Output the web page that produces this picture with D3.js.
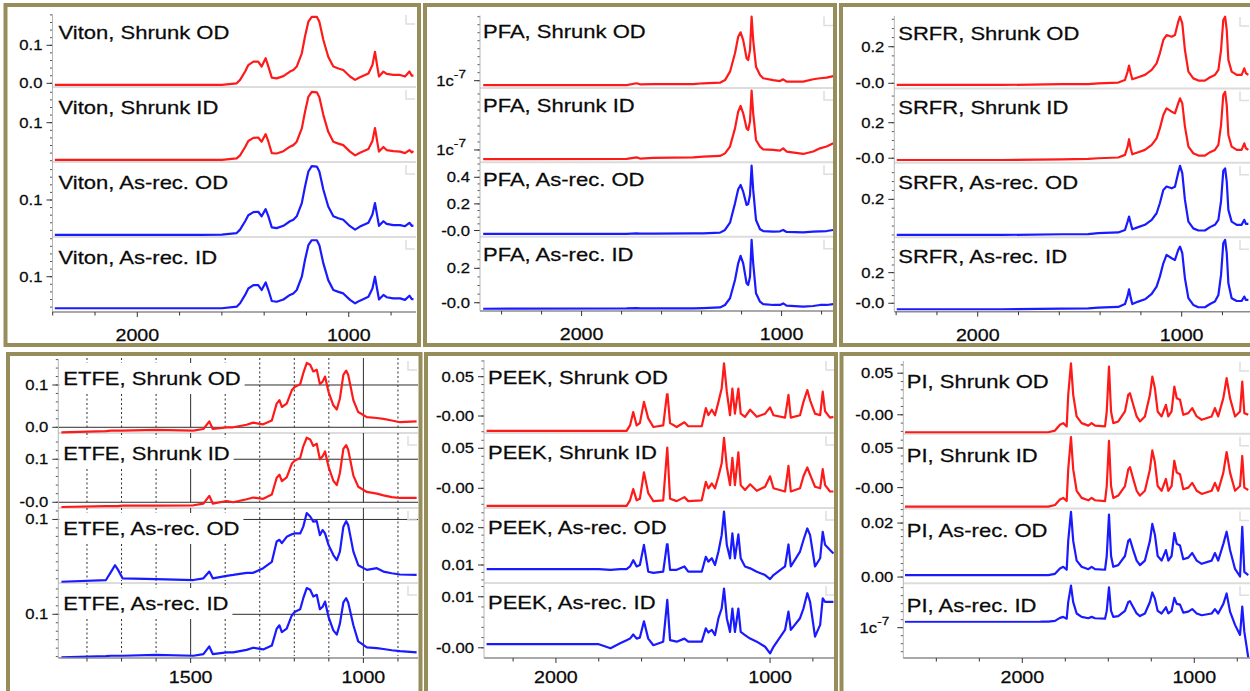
<!DOCTYPE html>
<html>
<head>
<meta charset="utf-8">
<script src="https://cdn.jsdelivr.net/npm/d3@7"></script>
<style>
html, body { margin: 0; padding: 0; background: #fff; }
svg { display: block; }
text { font-family: "Liberation Sans", Arial, sans-serif; }
</style>
</head>
<body>
<svg id="chart" width="1250" height="691"></svg>
<script>
// ---- FTIR spectra: absorbance vs wavenumber (cm-1), four samples per material ----
const materials = ["Viton", "PFA", "SRFR", "ETFE", "PEEK", "PI"];
const conditions = ["Shrunk OD", "Shrunk ID", "As-rec. OD", "As-rec. ID"];

// Viton
const vitonWn = [2390, 2000, 1700, 1600, 1530, 1514, 1490, 1475, 1451, 1428, 1412, 1393, 1380, 1364, 1341, 1309, 1278, 1262, 1246, 1222, 1207, 1191, 1175, 1151, 1139, 1120, 1097, 1073, 1049, 1026, 994, 970, 947, 907, 888, 876, 865, 857, 836, 821, 789, 757, 734, 713, 702, 694];
const vitonShrunkOD = [-0.004, -0.004, -0.004, -0.004, 0.000, 0.009, 0.031, 0.048, 0.057, 0.057, 0.044, 0.066, 0.044, 0.015, 0.013, 0.019, 0.031, 0.035, 0.044, 0.079, 0.123, 0.162, 0.175, 0.175, 0.162, 0.114, 0.070, 0.044, 0.039, 0.035, 0.018, 0.009, 0.016, 0.026, 0.048, 0.083, 0.044, 0.018, 0.031, 0.025, 0.022, 0.022, 0.018, 0.031, 0.020, 0.020];
const vitonShrunkID = [0.002, 0.002, 0.002, 0.002, 0.006, 0.014, 0.036, 0.052, 0.060, 0.061, 0.050, 0.070, 0.050, 0.020, 0.019, 0.025, 0.037, 0.041, 0.050, 0.085, 0.128, 0.168, 0.181, 0.180, 0.167, 0.120, 0.076, 0.050, 0.045, 0.041, 0.024, 0.014, 0.021, 0.031, 0.052, 0.086, 0.049, 0.024, 0.036, 0.028, 0.025, 0.024, 0.020, 0.028, 0.022, 0.025];
const vitonAsRecOD = [0.008, 0.008, 0.008, 0.009, 0.013, 0.022, 0.044, 0.060, 0.068, 0.069, 0.057, 0.076, 0.057, 0.028, 0.026, 0.032, 0.044, 0.048, 0.057, 0.092, 0.135, 0.175, 0.189, 0.188, 0.175, 0.127, 0.083, 0.057, 0.052, 0.048, 0.031, 0.022, 0.030, 0.040, 0.062, 0.092, 0.057, 0.032, 0.044, 0.037, 0.034, 0.034, 0.031, 0.040, 0.032, 0.033];
const vitonAsRecID = [0.017, 0.017, 0.017, 0.017, 0.021, 0.030, 0.052, 0.069, 0.078, 0.078, 0.065, 0.085, 0.065, 0.036, 0.034, 0.040, 0.052, 0.056, 0.065, 0.100, 0.144, 0.183, 0.196, 0.196, 0.183, 0.135, 0.091, 0.065, 0.060, 0.056, 0.039, 0.030, 0.037, 0.047, 0.069, 0.100, 0.065, 0.040, 0.052, 0.046, 0.043, 0.043, 0.039, 0.050, 0.041, 0.041];
const vitonYDomains = [[-0.0097, 0.1876], [-0.0034, 0.1939], [0.0026, 0.2], [0.0071, 0.2045]];
const vitonYTicks = [[0, 0.1], [0.1], [0.1], [0.1]];
const vitonYTickLabels = [["0.0", "0.1"], ["0.1"], ["0.1"], ["0.1"]];
const vitonYMinor = [0.02, 0.02, 0.02, 0.02];
const vitonXDomain = [2401, 682];
const vitonXMajor = [2000, 1000];
const vitonXMinor = [2400, 2200, 1800, 1600, 1400, 1200, 800];

// PFA
const pfaWn = [2492, 1775, 1725, 1708, 1642, 1442, 1392, 1308, 1283, 1258, 1233, 1217, 1205, 1192, 1175, 1167, 1158, 1150, 1142, 1128, 1108, 1092, 1042, 1008, 992, 975, 892, 842, 808, 775, 742];
const pfaShrunkOD = [0.978e-7, 0.978e-7, 0.987e-7, 0.982e-7, 0.983e-7, 0.983e-7, 0.987e-7, 0.990e-7, 1.003e-7, 1.045e-7, 1.137e-7, 1.220e-7, 1.242e-7, 1.203e-7, 1.112e-7, 1.103e-7, 1.153e-7, 1.320e-7, 1.203e-7, 1.070e-7, 1.028e-7, 1.012e-7, 1.003e-7, 0.998e-7, 1.007e-7, 0.995e-7, 0.995e-7, 1.007e-7, 1.012e-7, 1.015e-7, 1.023e-7];
const pfaShrunkID = [0.954e-7, 0.955e-7, 0.963e-7, 0.957e-7, 0.960e-7, 0.963e-7, 0.967e-7, 0.970e-7, 0.983e-7, 1.017e-7, 1.108e-7, 1.192e-7, 1.220e-7, 1.183e-7, 1.108e-7, 1.100e-7, 1.142e-7, 1.297e-7, 1.183e-7, 1.050e-7, 1.017e-7, 1.003e-7, 1.000e-7, 0.997e-7, 1.008e-7, 0.992e-7, 0.980e-7, 0.992e-7, 1.008e-7, 1.017e-7, 1.033e-7];
const pfaAsRecOD = [-0.026, -0.026, -0.021, -0.024, -0.024, -0.021, -0.021, -0.016, 0.004, 0.059, 0.204, 0.310, 0.342, 0.292, 0.192, 0.199, 0.267, 0.487, 0.305, 0.079, 0.009, -0.004, -0.009, -0.006, 0.004, -0.011, -0.014, -0.009, -0.006, -0.004, 0.004];
const pfaAsRecID = [-0.035, -0.033, -0.031, -0.033, -0.033, -0.033, -0.031, -0.027, -0.013, 0.026, 0.132, 0.229, 0.272, 0.229, 0.113, 0.103, 0.151, 0.365, 0.229, 0.055, 0.006, -0.008, -0.013, -0.013, -0.004, -0.017, -0.023, -0.019, -0.013, -0.013, -0.008];
const pfaYDomains = [[0.964e-7, 1.336e-7], [0.9385e-7, 1.3105e-7], [-0.046, 0.513], [-0.048, 0.384]];
const pfaYTicks = [[1e-7], [1e-7], [0, 0.2, 0.4], [0, 0.2]];
const pfaYTickLabels = [["1c^-7"], ["1c^-7"], ["-0.0", "0.2", "0.4"], ["-0.0", "0.2"]];
const pfaYMinor = [4e-9, 4e-9, 0.05, 0.05];
const pfaXDomain = [2508, 738];
const pfaXMajor = [2000, 1000];
const pfaXMinor = [2400, 2200, 1800, 1600, 1400, 1200, 800];

// SRFR
const srfrWn = [2397, 1882, 1588, 1458, 1409, 1311, 1278, 1265, 1258, 1250, 1242, 1213, 1180, 1147, 1123, 1107, 1090, 1074, 1049, 1033, 1017, 1008, 997, 984, 967, 943, 918, 886, 861, 837, 820, 807, 796, 787, 779, 771, 755, 730, 706, 693, 685, 673];
const srfrShrunkOD = [-0.009, -0.009, -0.005, -0.004, 0.000, 0.004, 0.018, 0.064, 0.097, 0.055, 0.022, 0.033, 0.046, 0.073, 0.109, 0.164, 0.237, 0.264, 0.255, 0.264, 0.337, 0.364, 0.328, 0.182, 0.064, 0.027, 0.015, 0.015, 0.033, 0.046, 0.073, 0.182, 0.346, 0.364, 0.291, 0.128, 0.064, 0.046, 0.046, 0.082, 0.055, 0.046];
const srfrShrunkID = [-0.010, -0.010, -0.006, -0.004, 0.000, 0.004, 0.019, 0.065, 0.107, 0.056, 0.022, 0.034, 0.047, 0.075, 0.112, 0.168, 0.243, 0.281, 0.262, 0.253, 0.309, 0.337, 0.309, 0.178, 0.065, 0.028, 0.015, 0.015, 0.034, 0.047, 0.075, 0.187, 0.356, 0.374, 0.299, 0.131, 0.065, 0.047, 0.047, 0.084, 0.056, 0.047];
const srfrAsRecOD = [0.000, 0.000, 0.004, 0.005, 0.010, 0.014, 0.028, 0.075, 0.103, 0.066, 0.032, 0.044, 0.057, 0.085, 0.122, 0.178, 0.253, 0.272, 0.262, 0.271, 0.350, 0.388, 0.347, 0.197, 0.075, 0.037, 0.025, 0.025, 0.044, 0.057, 0.085, 0.190, 0.360, 0.374, 0.300, 0.141, 0.075, 0.057, 0.057, 0.085, 0.062, 0.062];
const srfrAsRecID = [-0.039, -0.039, -0.035, -0.033, -0.029, -0.024, -0.005, 0.048, 0.091, 0.037, -0.005, 0.011, 0.026, 0.061, 0.109, 0.174, 0.261, 0.316, 0.294, 0.283, 0.348, 0.370, 0.327, 0.163, 0.033, -0.011, -0.026, -0.026, -0.005, 0.011, 0.054, 0.185, 0.392, 0.414, 0.327, 0.131, 0.033, 0.015, 0.015, 0.044, 0.022, 0.022];
const srfrYDomains = [[-0.028, 0.379], [-0.026, 0.393], [-0.013, 0.405], [-0.055, 0.431]];
const srfrYTicks = [[0, 0.2], [0, 0.2], [0.2], [0, 0.2]];
const srfrYTickLabels = [["-0.0", "0.2"], ["-0.0", "0.2"], ["0.2"], ["-0.0", "0.2"]];
const srfrYMinor = [0.05, 0.05, 0.05, 0.05];
const srfrXDomain = [2409, 665];
const srfrXMajor = [2000, 1000];
const srfrXMinor = [2400, 2200, 1800, 1600, 1400, 1200, 800];

// ETFE
const etfeWn = [1874, 1745, 1730, 1719, 1710, 1697, 1600, 1492, 1463, 1446, 1436, 1396, 1377, 1338, 1319, 1290, 1265, 1251, 1243, 1236, 1222, 1207, 1198, 1183, 1174, 1164, 1154, 1145, 1135, 1126, 1118, 1111, 1101, 1087, 1077, 1068, 1058, 1050, 1044, 1029, 1015, 990, 961, 942, 918, 894, 846];
const etfeShrunkOD = [-0.012, -0.009, -0.008, -0.008, -0.008, -0.008, -0.006, -0.008, -0.004, 0.014, -0.004, 0.000, 0.000, 0.006, 0.011, 0.007, 0.016, 0.056, 0.064, 0.048, 0.056, 0.088, 0.096, 0.102, 0.128, 0.152, 0.148, 0.132, 0.136, 0.102, 0.108, 0.120, 0.084, 0.052, 0.042, 0.068, 0.124, 0.134, 0.124, 0.064, 0.036, 0.024, 0.022, 0.020, 0.016, 0.012, 0.014];
const etfeShrunkID = [-0.011, -0.009, -0.009, -0.009, -0.009, -0.008, -0.008, -0.007, -0.003, 0.015, -0.003, 0.003, 0.000, 0.007, 0.011, 0.008, 0.018, 0.057, 0.064, 0.049, 0.058, 0.090, 0.097, 0.103, 0.130, 0.150, 0.146, 0.131, 0.136, 0.100, 0.107, 0.118, 0.083, 0.050, 0.040, 0.068, 0.124, 0.133, 0.122, 0.062, 0.036, 0.024, 0.020, 0.016, 0.012, 0.010, 0.010];
const etfeAsRecOD = [-0.047, -0.043, -0.023, -0.008, -0.019, -0.039, -0.041, -0.043, -0.039, -0.023, -0.039, -0.033, -0.031, -0.026, -0.026, -0.015, 0.000, 0.048, 0.052, 0.044, 0.059, 0.065, 0.067, 0.067, 0.083, 0.115, 0.107, 0.095, 0.096, 0.063, 0.075, 0.067, 0.040, 0.016, 0.004, 0.024, 0.083, 0.096, 0.087, 0.024, -0.008, -0.019, -0.015, -0.023, -0.027, -0.030, -0.031];
const etfeAsRecID = [-0.002, 0.001, 0.002, 0.002, 0.002, 0.002, 0.004, 0.002, 0.006, 0.024, 0.006, 0.010, 0.010, 0.016, 0.021, 0.017, 0.026, 0.066, 0.074, 0.058, 0.066, 0.098, 0.106, 0.112, 0.138, 0.162, 0.158, 0.142, 0.146, 0.112, 0.118, 0.130, 0.094, 0.062, 0.052, 0.078, 0.128, 0.138, 0.128, 0.074, 0.036, 0.022, 0.020, 0.018, 0.015, 0.013, 0.010];
const etfeYDomains = [[-0.0135, 0.1638], [-0.0133, 0.161], [-0.050, 0.127], [-0.0033, 0.174]];
const etfeYTicks = [[0, 0.1], [0, 0.1], [0.1], [0.1]];
const etfeYTickLabels = [["0.0", "0.1"], ["-0.0", "0.1"], ["0.1"], ["0.1"]];
const etfeYMinor = [0.02, 0.02, 0.02, 0.02];
const etfeXDomain = [1883, 842];
const etfeXMajor = [1500, 1000];
const etfeXMinor = [1800, 1700, 1600, 1400, 1300, 1200, 1100, 900];

// PEEK
const peekWn = [2324, 1800, 1745, 1700, 1670, 1654, 1639, 1623, 1608, 1589, 1569, 1545, 1499, 1480, 1467, 1436, 1400, 1382, 1319, 1300, 1288, 1272, 1257, 1241, 1226, 1215, 1202, 1187, 1176, 1164, 1148, 1137, 1117, 1093, 1062, 1023, 1000, 984, 930, 914, 903, 860, 844, 826, 813, 790, 766, 754, 743, 720, 704];
const peekShrunkOD = [-0.019, -0.019, -0.019, -0.019, -0.019, -0.012, 0.005, -0.012, -0.009, 0.018, -0.003, -0.014, -0.012, 0.031, -0.009, -0.014, -0.008, -0.013, -0.013, 0.010, 0.001, 0.008, 0.001, 0.018, 0.035, 0.067, 0.031, 0.001, 0.035, 0.003, 0.035, 0.003, -0.001, 0.008, -0.001, 0.003, 0.011, 0.001, -0.002, 0.027, -0.002, 0.001, 0.018, 0.033, 0.020, 0.003, 0.001, 0.031, 0.006, -0.002, -0.001];
const peekShrunkID = [-0.022, -0.022, -0.022, -0.022, -0.022, -0.015, -0.001, -0.015, -0.013, 0.020, -0.006, -0.016, -0.015, 0.051, -0.013, -0.016, -0.011, -0.016, -0.015, 0.008, 0.000, 0.006, 0.000, 0.015, 0.031, 0.063, 0.027, 0.004, 0.038, 0.004, 0.045, 0.004, -0.002, 0.005, -0.003, 0.002, 0.015, 0.000, -0.004, 0.028, -0.004, 0.000, 0.015, 0.026, 0.017, 0.002, 0.000, 0.024, 0.004, -0.004, -0.004];
const peekAsRecOD = [0.0089, 0.0089, 0.0087, 0.0089, 0.0089, 0.0096, 0.0113, 0.0096, 0.0100, 0.0154, 0.0082, 0.0079, 0.0082, 0.0162, 0.0087, 0.0087, 0.0096, 0.0082, 0.0082, 0.0122, 0.0109, 0.0118, 0.0100, 0.0136, 0.0180, 0.0243, 0.0154, 0.0118, 0.0185, 0.0118, 0.0182, 0.0118, 0.0096, 0.0091, 0.0082, 0.0073, 0.0062, 0.0073, 0.0096, 0.0155, 0.0096, 0.0136, 0.0167, 0.0198, 0.0180, 0.0096, 0.0118, 0.0189, 0.0154, 0.0140, 0.0131];
const peekAsRecID = [0.0007, 0.0007, -0.0001, 0.0009, 0.0015, 0.0018, 0.0026, 0.0018, 0.0020, 0.0052, 0.0018, 0.0005, 0.0012, 0.0094, 0.0015, 0.0012, 0.0018, 0.0012, 0.0012, 0.0038, 0.0030, 0.0035, 0.0025, 0.0058, 0.0077, 0.0116, 0.0058, 0.0031, 0.0077, 0.0031, 0.0077, 0.0031, 0.0025, 0.0018, 0.0012, 0.0002, -0.0011, 0.0002, 0.0035, 0.0071, 0.0035, 0.0058, 0.0077, 0.0107, 0.0090, 0.0022, 0.0045, 0.0097, 0.0090, 0.0090, 0.0090];
const peekYDomains = [[-0.0216, 0.0738], [-0.0246, 0.0691], [0.00517, 0.02528], [-0.0020, 0.0127]];
const peekYTicks = [[0, 0.05], [0, 0.05], [0.01, 0.02], [0, 0.01]];
const peekYTickLabels = [["-0.00", "0.05"], ["-0.00", "0.05"], ["0.01", "0.02"], ["-0.00", "0.01"]];
const peekYMinor = [0.01, 0.01, 0.002, 0.002];
const peekXDomain = [2336, 692];
const peekXMajor = [2000, 1000];
const peekXMinor = [2200, 1800, 1600, 1400, 1200, 800];

// PI
const piWn = [2682, 1849, 1810, 1781, 1762, 1742, 1733, 1717, 1704, 1684, 1655, 1616, 1597, 1577, 1519, 1509, 1496, 1484, 1471, 1442, 1403, 1384, 1374, 1355, 1335, 1316, 1287, 1258, 1244, 1229, 1213, 1190, 1165, 1151, 1132, 1116, 1102, 1083, 1064, 1035, 1012, 986, 957, 899, 880, 861, 831, 812, 792, 763, 734, 721, 709, 686];
const piShrunkOD = [-0.021, -0.021, -0.019, -0.012, -0.010, -0.014, 0.024, 0.062, 0.024, -0.002, -0.010, -0.013, -0.010, -0.013, -0.014, 0.004, 0.058, 0.004, -0.010, -0.008, 0.004, 0.024, 0.026, 0.012, -0.002, -0.008, -0.002, 0.024, 0.046, 0.032, 0.004, -0.002, 0.012, -0.002, 0.004, 0.034, 0.020, 0.018, 0.000, 0.002, 0.008, -0.002, -0.006, -0.002, 0.008, -0.002, 0.020, 0.044, 0.020, -0.002, 0.004, 0.040, 0.002, 0.000];
const piShrunkID = [-0.024, -0.024, -0.022, -0.015, -0.013, -0.017, 0.023, 0.064, 0.023, -0.004, -0.013, -0.016, -0.013, -0.016, -0.017, 0.002, 0.059, 0.002, -0.013, -0.010, 0.002, 0.023, 0.026, 0.011, -0.004, -0.010, -0.004, 0.023, 0.047, 0.032, 0.002, -0.004, 0.011, -0.004, 0.002, 0.034, 0.019, 0.017, -0.002, 0.000, 0.006, -0.004, -0.008, -0.004, 0.006, -0.004, 0.019, 0.045, 0.019, -0.004, 0.002, 0.040, 0.000, -0.003];
const piAsRecOD = [0.0007, 0.0007, 0.0012, 0.0032, 0.0038, 0.0027, 0.0134, 0.0242, 0.0134, 0.0061, 0.0038, 0.0029, 0.0038, 0.0029, 0.0027, 0.0078, 0.0231, 0.0078, 0.0038, 0.0044, 0.0078, 0.0134, 0.0140, 0.0100, 0.0061, 0.0044, 0.0061, 0.0134, 0.0197, 0.0157, 0.0078, 0.0061, 0.0100, 0.0061, 0.0078, 0.0163, 0.0123, 0.0117, 0.0066, 0.0072, 0.0089, 0.0061, 0.0049, 0.0061, 0.0089, 0.0061, 0.0123, 0.0168, 0.0100, 0.0030, 0.0002, 0.0186, 0.0019, 0.0007];
const piAsRecID = [1.030e-7, 1.030e-7, 1.034e-7, 1.049e-7, 1.054e-7, 1.045e-7, 1.128e-7, 1.210e-7, 1.128e-7, 1.071e-7, 1.054e-7, 1.047e-7, 1.054e-7, 1.047e-7, 1.045e-7, 1.084e-7, 1.202e-7, 1.084e-7, 1.054e-7, 1.058e-7, 1.084e-7, 1.128e-7, 1.132e-7, 1.102e-7, 1.071e-7, 1.058e-7, 1.071e-7, 1.128e-7, 1.176e-7, 1.145e-7, 1.084e-7, 1.071e-7, 1.102e-7, 1.071e-7, 1.084e-7, 1.149e-7, 1.119e-7, 1.115e-7, 1.075e-7, 1.080e-7, 1.093e-7, 1.071e-7, 1.062e-7, 1.071e-7, 1.093e-7, 1.071e-7, 1.119e-7, 1.171e-7, 1.080e-7, 1.014e-7, 0.964e-7, 1.105e-7, 0.980e-7, 0.850e-7];
const piYDomains = [[-0.0228, 0.0671], [-0.0264, 0.0681], [-0.0023, 0.0254], [0.8485e-7, 1.222e-7]];
const piYTicks = [[0, 0.05], [0, 0.05], [0, 0.02], [1e-7]];
const piYTickLabels = [["-0.00", "0.05"], ["-0.00", "0.05"], ["0.00", "0.02"], ["1c^-7"]];
const piYMinor = [0.01, 0.01, 0.0025, 4e-9];
const piXDomain = [2692, 676];
const piXMajor = [2000, 1000];
const piXMinor = [2500, 2250, 1750, 1500, 1250, 750];

// ---- layout and styling ----
const STRETCH = 1.19;            // text is drawn horizontally widened
const RED = "#ff1a1a", BLUE = "#1a1aff";
const OLIVE = "#978d5b";
const seriesColors = [RED, RED, BLUE, BLUE];

const panels = [
  { name: materials[0], wn: vitonWn, series: [vitonShrunkOD, vitonShrunkID, vitonAsRecOD, vitonAsRecID],
    yDomains: vitonYDomains, yTicks: vitonYTicks, yTickLabels: vitonYTickLabels, yMinor: vitonYMinor,
    xDomain: vitonXDomain, xMajor: vitonXMajor, xMinor: vitonXMinor,
    frame: { x: 5.5, y: 5, w: 413.5, h: 340 }, plot: { l: 52.5, r: 416, t: 12, b: 312 },
    labelDx: 6, labelDy: 26.5, xLabelDy: 29, grid: false },
  { name: materials[1], wn: pfaWn, series: [pfaShrunkOD, pfaShrunkID, pfaAsRecOD, pfaAsRecID],
    yDomains: pfaYDomains, yTicks: pfaYTicks, yTickLabels: pfaYTickLabels, yMinor: pfaYMinor,
    xDomain: pfaXDomain, xMajor: pfaXMajor, xMinor: pfaXMinor,
    frame: { x: 425, y: 5, w: 410, h: 340 }, plot: { l: 480, r: 834, t: 13.5, b: 311 },
    labelDx: 3, labelDy: 24, xLabelDy: 29, grid: false },
  { name: materials[2], wn: srfrWn, series: [srfrShrunkOD, srfrShrunkID, srfrAsRecOD, srfrAsRecID],
    yDomains: srfrYDomains, yTicks: srfrYTicks, yTickLabels: srfrYTickLabels, yMinor: srfrYMinor,
    xDomain: srfrXDomain, xMajor: srfrXMajor, xMinor: srfrXMinor,
    frame: { x: 841, y: 5, w: 430, h: 340 }, plot: { l: 894.3, r: 1250, t: 14, b: 311.7 },
    labelDx: 4, labelDy: 26, xLabelDy: 29, grid: false },
  { name: materials[3], wn: etfeWn, series: [etfeShrunkOD, etfeShrunkID, etfeAsRecOD, etfeAsRecID],
    yDomains: etfeYDomains, yTicks: etfeYTicks, yTickLabels: etfeYTickLabels, yMinor: etfeYMinor,
    xDomain: etfeXDomain, xMajor: etfeXMajor, xMinor: etfeXMinor,
    frame: { x: 8, y: 354, w: 412.5, h: 400 }, plot: { l: 58.3, r: 418, t: 358, b: 658 },
    labelDx: 5, labelDy: 27, xLabelDy: 25, grid: true },
  { name: materials[4], wn: peekWn, series: [peekShrunkOD, peekShrunkID, peekAsRecOD, peekAsRecID],
    yDomains: peekYDomains, yTicks: peekYTicks, yTickLabels: peekYTickLabels, yMinor: peekYMinor,
    xDomain: peekXDomain, xMajor: peekXMajor, xMinor: peekXMinor,
    frame: { x: 426, y: 354, w: 410, h: 400 }, plot: { l: 484, r: 836, t: 358, b: 658 },
    labelDx: 4, labelDy: 26.3, xLabelDy: 25, grid: false },
  { name: materials[5], wn: piWn, series: [piShrunkOD, piShrunkID, piAsRecOD, piAsRecID],
    yDomains: piYDomains, yTicks: piYTicks, yTickLabels: piYTickLabels, yMinor: piYMinor,
    xDomain: piXDomain, xMajor: piXMajor, xMinor: piXMinor,
    frame: { x: 841.5, y: 354, w: 430, h: 400 }, plot: { l: 903.3, r: 1250, t: 359, b: 658 },
    labelDx: 3.5, labelDy: 28.5, xLabelDy: 25, grid: false }
];

const svg = d3.select("#chart");
svg.append("rect").attr("width", 1250).attr("height", 691).attr("fill", "#fff");
const defs = svg.append("defs");

// text helper: widened glyphs, optional superscript after "^"
function addText(g, x, y, str, size, anchor) {
  const t = g.append("text")
    .attr("transform", `translate(${x},${y}) scale(${STRETCH},1)`)
    .attr("font-size", size)
    .attr("text-anchor", anchor || "start")
    .attr("fill", "#0a0a0a")
    .attr("stroke", "#0a0a0a")
    .attr("stroke-width", 0.25);
  const parts = str.split("^");
  t.append("tspan").text(parts[0]);
  if (parts.length > 1) {
    t.append("tspan").attr("font-size", size * 0.82).attr("dy", -size * 0.55).text(parts[1]);
  }
  return t;
}

panels.forEach((p, pi) => {
  const g = svg.append("g").attr("class", "panel");
  const x = d3.scaleLinear().domain(p.xDomain).range([p.plot.l, p.plot.r]);
  const subH = (p.plot.b - p.plot.t) / 4;

  const clipId = "clip-" + pi;
  defs.append("clipPath").attr("id", clipId).append("rect")
    .attr("x", p.plot.l).attr("y", p.plot.t - 10)
    .attr("width", p.plot.r - p.plot.l).attr("height", p.plot.b - p.plot.t + 10);

  p.series.forEach((vals, i) => {
    const top = p.plot.t + i * subH, bot = top + subH;
    const y = d3.scaleLinear().domain(p.yDomains[i]).range([bot, top]);
    const sg = g.append("g").attr("class", "sub");

    // grid (ETFE only)
    if (p.grid) {
      const gridBottom = p.yTicks[i].includes(0) ? y(0) : bot - 2;
      const gl = sg.append("g").attr("clip-path", `url(#${clipId})`);
      p.xMajor.concat(p.xMinor).forEach(w => {
        const solid = p.xMajor.includes(w);
        gl.append("line")
          .attr("x1", x(w)).attr("x2", x(w))
          .attr("y1", top).attr("y2", gridBottom)
          .attr("stroke", "#2e2e2e").attr("stroke-width", 1)
          .attr("stroke-dasharray", solid ? null : "2,2.5");
      });
      p.yTicks[i].forEach(v => {
        gl.append("line")
          .attr("x1", p.plot.l).attr("x2", p.plot.r)
          .attr("y1", y(v)).attr("y2", y(v))
          .attr("stroke", "#2e2e2e").attr("stroke-width", 1);
      });
    }

    // light frame line below each stacked plot
    if (i < 3) {
      sg.append("line")
        .attr("x1", p.plot.l).attr("x2", p.plot.r)
        .attr("y1", bot).attr("y2", bot)
        .attr("stroke", "#dcdcdc").attr("stroke-width", 2);
    }
    // small corner mark at top right
    const cr = Math.min(p.plot.r, 1250) - 1;
    sg.append("path")
      .attr("d", `M${cr - 9},${top + 3}V${top + 12}H${cr}`)
      .attr("fill", "none").attr("stroke", "#dedede").attr("stroke-width", 1.5);

    // spectrum
    const pts = p.wn.map((w, k) => [w, vals[k]]);
    sg.append("path")
      .datum(pts)
      .attr("clip-path", `url(#${clipId})`)
      .attr("fill", "none")
      .attr("stroke", seriesColors[i])
      .attr("stroke-width", 2.2)
      .attr("stroke-linejoin", "round")
      .attr("d", d3.line().x(d => x(d[0])).y(d => y(d[1])));

    // sample label on white box
    const baseY = top + p.labelDy;
    const lab = addText(sg, p.plot.l + p.labelDx, baseY, `${p.name}, ${conditions[i]}`, 18.5, "start");
    const tw = lab.node().getComputedTextLength() * STRETCH;
    sg.insert("rect", "text")
      .attr("x", p.plot.l + 1).attr("y", baseY - 22)
      .attr("width", p.labelDx + tw + 3).attr("height", 31)
      .attr("fill", "#fff");

    // y axis ticks for this plot
    const ya = sg.append("g");
    const [lo, hi] = p.yDomains[i];
    const step = p.yMinor[i];
    d3.range(Math.ceil(lo / step), Math.floor(hi / step) + 1).forEach(k => {
      const yy = y(k * step);
      if (yy < top + 1 || yy > bot - 1) return;
      ya.append("line").attr("x1", p.plot.l - 2.5).attr("x2", p.plot.l)
        .attr("y1", yy).attr("y2", yy).attr("stroke", "#555").attr("stroke-width", 1);
    });
    p.yTicks[i].forEach((v, k) => {
      const yy = y(v);
      ya.append("line").attr("x1", p.plot.l - 6).attr("x2", p.plot.l)
        .attr("y1", yy).attr("y2", yy).attr("stroke", "#333").attr("stroke-width", 1);
      const lbl = p.yTickLabels[i][k];
      const sup = lbl.includes("^");
      addText(ya, p.plot.l - (sup ? 14 : 10), yy + 5, lbl, 14, "end");
    });
  });

  // y axis line
  g.append("line")
    .attr("x1", p.plot.l).attr("x2", p.plot.l)
    .attr("y1", p.plot.t + 2).attr("y2", p.plot.b)
    .attr("stroke", "#b4b4b4").attr("stroke-width", 1);

  // x axis
  const xa = g.append("g");
  xa.append("line")
    .attr("x1", p.plot.l).attr("x2", p.plot.r)
    .attr("y1", p.plot.b).attr("y2", p.plot.b)
    .attr("stroke", "#8c8c8c").attr("stroke-width", 1.5);
  p.xMinor.forEach(w => {
    xa.append("line").attr("x1", x(w)).attr("x2", x(w))
      .attr("y1", p.plot.b).attr("y2", p.plot.b + 3.5)
      .attr("stroke", "#333").attr("stroke-width", 1);
  });
  p.xMajor.forEach(w => {
    xa.append("line").attr("x1", x(w)).attr("x2", x(w))
      .attr("y1", p.plot.b).attr("y2", p.plot.b + 5)
      .attr("stroke", "#333").attr("stroke-width", 1);
    addText(xa, x(w), p.plot.b + p.xLabelDy, String(w), 16.5, "middle");
  });

  // olive frame
  g.append("rect")
    .attr("x", p.frame.x).attr("y", p.frame.y)
    .attr("width", p.frame.w).attr("height", p.frame.h)
    .attr("fill", "none").attr("stroke", OLIVE).attr("stroke-width", 4);
});
</script>
</body>
</html>
